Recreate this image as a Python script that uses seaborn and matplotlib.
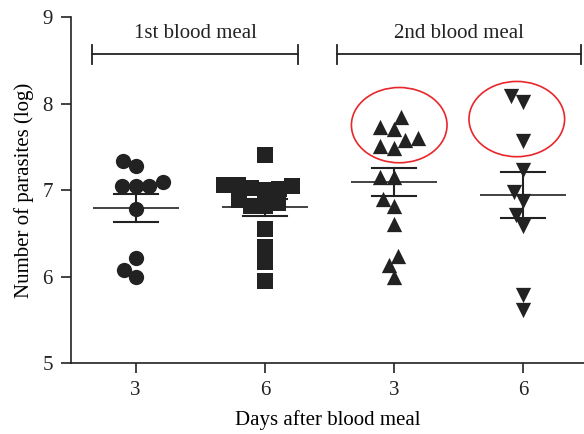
import numpy as np
import pandas as pd
import matplotlib
matplotlib.use("Agg")
import matplotlib.pyplot as plt
import seaborn as sns
from matplotlib.patches import Ellipse

# log parasite counts
groups = ["1st_d3", "1st_d6", "2nd_d3", "2nd_d6"]
tick_labels = ["3", "6", "3", "6"]
markers = ["o", "s", "^", "v"]

first_d3 = [7.28, 7.34, 7.05, 7.05, 7.09, 7.05, 6.78, 6.21, 6.00, 6.08]
first_d6 = [7.41, 7.02, 6.85, 7.00, 7.06, 7.06, 6.82, 6.89, 6.82, 7.05,
            7.01, 6.55, 6.34, 6.17, 5.95]
second_d3 = [7.84, 7.73, 7.71, 7.60, 7.58, 7.51, 7.48, 7.15, 7.15, 6.90,
             6.81, 6.61, 6.24, 6.13, 5.99]
second_d6 = [8.09, 8.02, 7.57, 7.23, 6.98, 6.87, 6.71, 6.58, 5.79, 5.61]
values = [first_d3, first_d6, second_d3, second_d6]

meal_labels = ["1st blood meal", "2nd blood meal"]
meal_spans = [(-0.34, 1.26), (1.56, 3.45)]
circled = [(2.04, 7.75), (2.95, 7.82)]

df = pd.DataFrame({
    "group": np.repeat(groups, [len(v) for v in values]),
    "value": np.concatenate(values),
})

plt.rcParams["font.family"] = ["Liberation Serif", "DejaVu Serif"]
plt.rcParams["font.size"] = 15

fig = plt.figure(figsize=(5.84, 4.34), dpi=100)
ax = fig.add_axes([0.1216, 0.1636, 0.8784, 0.7972])

ink = "#222222"
# lay the swarm out with small markers, then enlarge them so they overlap
# a little like in the original figure
swarm_size = 9.5
marker_size = 11
swarms = []
for g, vals, m in zip(groups, values, markers):
    n_before = len(ax.collections)
    sns.swarmplot(x=[g] * len(vals), y=vals, order=groups, marker=m,
                  size=swarm_size, color=ink, linewidth=0, ax=ax)
    swarms += [c for c in ax.collections[n_before:] if len(c.get_offsets())]

sns.pointplot(data=df, x="group", y="value", order=groups, errorbar="se",
              capsize=0.34, linestyle="none", marker="_", markersize=62,
              markeredgewidth=1.2, color=ink, err_kws={"linewidth": 1.5},
              ax=ax)

# brackets for the two blood meals
for lab, (x0, x1) in zip(meal_labels, meal_spans):
    ax.plot([x0, x1], [8.57, 8.57], color=ink, lw=1.3, clip_on=False)
    for xe in (x0, x1):
        ax.plot([xe, xe], [8.46, 8.68], color=ink, lw=1.3, clip_on=False)
    ax.text((x0 + x1) / 2, 8.81, lab, ha="center", va="center", color=ink)

for cx, cy in circled:
    ax.add_patch(Ellipse((cx, cy), 0.74, 0.87, fill=False,
                         edgecolor="#e8262b", lw=1.2))

ax.set_xlim(-0.5, 3.47)
ax.set_ylim(5, 9)
ax.set_yticks([5, 6, 7, 8, 9])
ax.set_xticks(range(4))
ax.set_xticklabels(tick_labels)
ax.set_xlabel("Days after blood meal", labelpad=7)
ax.set_ylabel("Number of parasites (log)", labelpad=6)
ax.tick_params(length=7, width=1.2, colors=ink, pad=6)
for s in ["top", "right"]:
    ax.spines[s].set_visible(False)
for s in ["left", "bottom"]:
    ax.spines[s].set_linewidth(1.2)
    ax.spines[s].set_color(ink)

# first draw fixes the swarm positions; then freeze them and grow markers
fig.canvas.draw()
for coll in swarms:
    if "draw" in coll.__dict__:
        del coll.draw
    coll.set_sizes([marker_size ** 2])

fig.savefig("out.png", dpi=100)
